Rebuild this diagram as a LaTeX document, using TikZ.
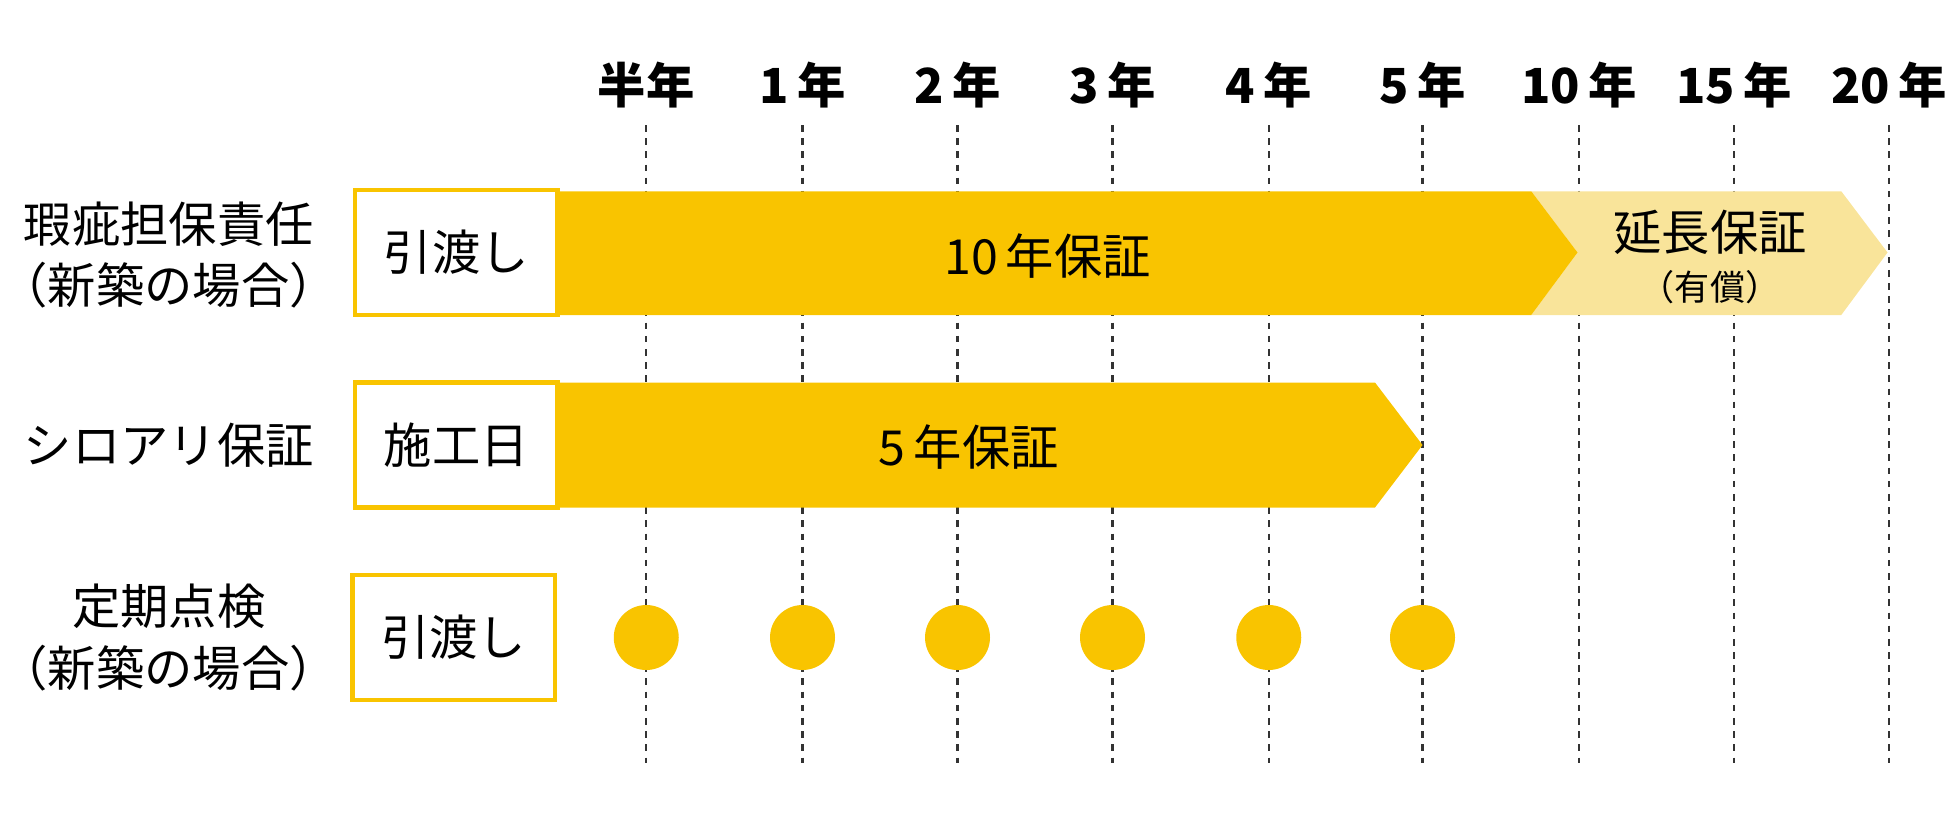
\documentclass[tikz,border=0pt]{standalone}
\usepackage{fontspec}
\setmainfont{Noto Sans CJK JP}
\usetikzlibrary{positioning}
\definecolor{gold}{HTML}{F9C400}
\definecolor{pale}{HTML}{F9E49A}
\tikzset{%
  gridline/.style = {dashed,line width=1pt,black!80},
  yearlabel/.style = {font=\fontsize{22}{26}\selectfont\bfseries},
  rowlabel/.style = {font=\fontsize{22}{28}\selectfont,align=center},
  startbox/.style = {rectangle,draw=gold,line width=2pt,fill=white,
        minimum width=3.24cm,minimum height=2cm,font=\fontsize{22}{26}\selectfont},
  dot/.style = {circle,fill=gold,minimum size=1.04cm,inner sep=0pt}
}
\begin{document}
\begin{tikzpicture}[x=0.02cm,y=-0.02cm]
\useasboundingbox (0,0) rectangle (1568,656);
% year columns
\foreach \x/\t/\n in {517/半年/c0,642/1\,年/c1,766/2\,年/c2,890/3\,年/c3,1015/4\,年/c4,1138/5\,年/c5,1263/10\,年/c10,1387/15\,年/c15,1511/20\,年/c20}{
  \node[yearlabel] (\n) at (\x,68) {\t};
  \coordinate (\n top) at (\x,100);
  \coordinate (\n bot) at (\x,610);
  \draw[gridline] (\n top) -- (\n bot);
}
% row 1
\fill[pale] (1225,153) -- (1473,153) -- (1510,202) -- (1473,252) -- (1225,252) -- (1262,202) -- cycle;
\fill[gold] (446,153) -- (1225,153) -- (1262,202) -- (1225,252) -- (446,252) -- cycle;
\node[startbox] (hand1) at (365,202) {引渡し};
\node[font=\fontsize{22}{26}\selectfont] (ten) at (838,205) {10\,年保証};
\node[font=\fontsize{22}{26}\selectfont] (ext) at (1368,186) {延長保証};
\node[font=\fontsize{16}{20}\selectfont,below=0pt of ext] (paid) {（有償）};
\node[rowlabel] (row1) at (135,204) {瑕疵担保責任\\（新築の場合）};
% row 2
\fill[gold] (446,306) -- (1100,306) -- (1138,356) -- (1100,406) -- (446,406) -- cycle;
\node[startbox] (work) at (365,356) {施工日};
\node[font=\fontsize{22}{26}\selectfont] (five) at (775,358) {5\,年保証};
\node[rowlabel] (row2) at (135,356) {シロアリ保証};
% row 3
\node[startbox] (hand3) at (363,510) {引渡し};
\foreach \n in {c0,c1,c2,c3,c4,c5}
  \node[dot] (d\n) at (\n top |- hand3) {};
\node[rowlabel] (row3) at (135,510) {定期点検\\（新築の場合）};
\end{tikzpicture}
\end{document}
